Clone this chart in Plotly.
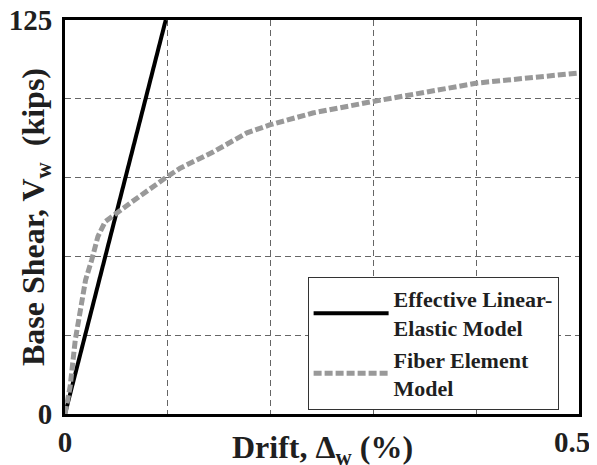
import plotly.graph_objects as go

# Data
lin_drift = [0.0, 0.098]
lin_shear = [0.0, 125.0]

fib_drift = [0.0, 0.005, 0.010, 0.015, 0.020, 0.026, 0.032, 0.039, 0.049, 0.065,
             0.099, 0.112, 0.144, 0.177, 0.199, 0.241, 0.297, 0.323, 0.401, 0.5]
fib_shear = [0.0, 8.7, 23.5, 33.0, 42.5, 48.9, 56.3, 61.0, 63.6, 67.3,
             75.2, 78.0, 83.1, 89.2, 91.7, 95.5, 99.0, 100.6, 105.0, 108.2]

x_ticks = [0, 0.1, 0.2, 0.3, 0.4, 0.5]
x_labels = ["0", "", "", "", "", ""]
x_end_label = "0.5"
y_ticks = [0, 25, 50, 75, 100, 125]
y_labels = ["0", "", "", "", "", "125"]

FONT = "Liberation Serif, Times New Roman, serif"
TXT = "#1f1f1f"

fig = go.Figure()
fig.add_trace(go.Scatter(
    x=lin_drift, y=lin_shear, mode="lines",
    name="Effective Linear-<br>Elastic Model",
    line=dict(color="black", width=4),
))
fig.add_trace(go.Scatter(
    x=fib_drift, y=fib_shear, mode="lines",
    name="Fiber Element<br>Model",
    line=dict(color="#999999", width=5, dash="8px,3px"),
))

axis_common = dict(
    showline=True, linecolor="black", linewidth=3, mirror=True,
    showgrid=True, gridcolor="#666666", gridwidth=1, griddash="6px,4px",
    zeroline=False, ticks="", automargin=False, ticklabeloverflow="allow",
    tickfont=dict(family=FONT, size=29, color=TXT, weight="bold"),
)

fig.update_xaxes(range=[0, 0.5], tickmode="array", tickvals=x_ticks,
                 ticktext=x_labels, ticklabelstandoff=0, **axis_common)
fig.update_yaxes(range=[0, 125], tickmode="array", tickvals=y_ticks,
                 ticktext=y_labels, ticklabelstandoff=4, **axis_common)

# "0.5" end label, right-aligned so it stays inside the window like the reference
fig.add_annotation(
    text=x_end_label, xref="x", yref="paper",
    x=x_ticks[-1], y=0, xshift=13, yshift=-10, xanchor="right", yanchor="top",
    showarrow=False,
    font=dict(family=FONT, size=29, color=TXT, weight="bold"),
)
fig.add_annotation(
    text="Drift, Δ<sub>w</sub> (%)", xref="paper", yref="paper",
    x=0.5, y=0, yshift=-13, xanchor="center", yanchor="top",
    showarrow=False,
    font=dict(family=FONT, size=32, color=TXT, weight="bold"),
)
fig.add_annotation(
    text="Base Shear, V<sub>w</sub>  (kips)", xref="paper", yref="paper",
    x=0, y=0.5, xshift=-30, xanchor="center", yanchor="middle",
    textangle=-90, showarrow=False,
    font=dict(family=FONT, size=32, color=TXT, weight="bold"),
)

# The page body adds an 8px offset, so the figure is sized to fill the window from there.
fig.update_layout(
    width=589, height=457,
    margin=dict(l=57, r=18, t=12, b=51),
    paper_bgcolor="white", plot_bgcolor="white",
    showlegend=True,
    legend=dict(
        x=0.472, y=0.01, xanchor="left", yanchor="bottom",
        bgcolor="white", bordercolor="#333333", borderwidth=1,
        font=dict(family=FONT, size=22, color=TXT, weight="bold"),
        itemwidth=75, tracegroupgap=0,
    ),
)

fig.write_html("out.html")
